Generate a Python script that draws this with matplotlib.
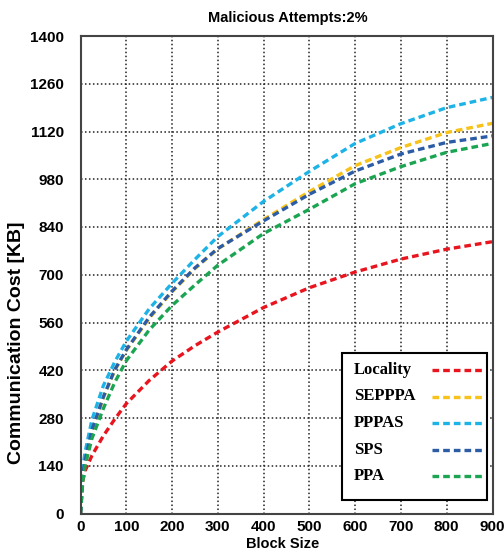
import matplotlib
matplotlib.use("Agg")
import matplotlib.pyplot as plt
from matplotlib.patches import Rectangle
from matplotlib.lines import Line2D

block_size = [0, 5, 10, 25, 50, 75, 100, 150, 200, 250, 300, 400, 500, 600, 700, 800, 900]
locality = [0, 95, 125, 170, 228, 277, 322, 390, 447, 492, 532, 604, 662, 708, 746, 775, 797]
sepppa = [0, 110, 150, 240, 340, 420, 478, 572, 650, 718, 776, 862, 944, 1020, 1073, 1117, 1144]
pppas = [0, 135, 180, 275, 375, 445, 505, 600, 675, 745, 812, 915, 1003, 1085, 1143, 1190, 1220]
sps = [0, 115, 155, 245, 342, 422, 480, 575, 652, 720, 777, 858, 936, 1004, 1054, 1088, 1107]
ppa = [0, 95, 140, 220, 308, 385, 448, 538, 610, 670, 728, 821, 892, 967, 1017, 1059, 1085]

labels = ["Locality", "SEPPPA", "PPPAS", "SPS", "PPA"]
colors = ["#E8151F", "#F7C21A", "#1EB3E6", "#2D5CA6", "#1BA552"]
series = [locality, sepppa, pppas, sps, ppa]

x_ticks = list(range(0, 901, 100))
y_ticks = list(range(0, 1401, 140))

W, H = 504, 553
def fx(px):
    return px / W
def fy(py):
    return 1 - py / H

narrow = ["Liberation Sans Narrow", "Liberation Sans", "DejaVu Sans"]
sans = ["Liberation Sans", "DejaVu Sans"]
serif = ["Liberation Serif", "DejaVu Serif"]

LW = 2.4
DASH = (2.0, 1.2)

fig = plt.figure(figsize=(5.04, 5.53), dpi=100)
ax = fig.add_axes([fx(80.5), fy(513.5), (492.5 - 80.5) / W, (513.5 - 36) / H])

for vals, lab, col in zip(series, labels, colors):
    ax.plot(block_size, vals, color=col, lw=LW, dashes=DASH, label=lab,
            dash_capstyle="butt")

ax.set_xlim(0, 900)
ax.set_ylim(0, 1400)
ax.set_xticks(x_ticks)
ax.set_yticks(y_ticks)
ax.grid(True, color="#222222", linestyle=(0, (1, 1.6)), lw=1.1)
ax.set_axisbelow(True)
ax.tick_params(length=0)
ax.tick_params(axis="y", pad=12)
ax.tick_params(axis="x", pad=5)
for t in ax.get_xticklabels() + ax.get_yticklabels():
    t.set_fontfamily(narrow)
    t.set_fontweight("bold")
    t.set_fontsize(11)
for s in ax.spines.values():
    s.set_color("#444444")
    s.set_linewidth(1.5)

fig.text(fx(288), fy(18), "Malicious Attempts:2%", ha="center", va="center",
         fontfamily=narrow, fontweight="bold", fontsize=10.5)
fig.text(fx(282.5), fy(544), "Block Size", ha="center", va="center",
         fontfamily=sans, fontweight="bold", fontsize=10.5)
fig.text(fx(17), fy(343), "Communication Cost [KB]", ha="center", va="center",
         rotation=90, fontfamily=sans, fontweight="bold", fontsize=14)

# legend (text first, dashed sample on the right, as in the reference)
box_l, box_t, box_r, box_b = 341.7, 352.7, 486.7, 500.0
fig.add_artist(Rectangle((fx(box_l), fy(box_b)), (box_r - box_l) / W, (box_b - box_t) / H,
                         transform=fig.transFigure, facecolor="white", edgecolor="black",
                         lw=1.5, zorder=5))
row_y = [370, 396.5, 423, 449.5, 476]
for lab, col, ry in zip(labels, colors, row_y):
    fig.text(fx(354), fy(ry), lab, ha="left", va="center", fontfamily=serif,
             fontweight="bold", fontsize=12, zorder=6)
    fig.add_artist(Line2D([fx(432), fx(485)], [fy(ry), fy(ry)], transform=fig.transFigure,
                          color=col, lw=LW, dashes=DASH, dash_capstyle="butt", zorder=6))

fig.savefig("out.png", dpi=100)
